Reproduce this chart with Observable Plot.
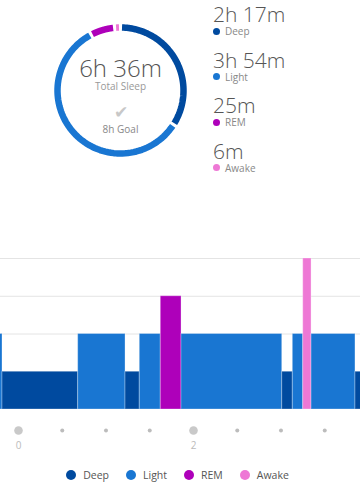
<!DOCTYPE html>
<html><head><meta charset="utf-8">
<script src="https://cdn.jsdelivr.net/npm/d3@7"></script>
<script src="https://cdn.jsdelivr.net/npm/@observablehq/plot@0.6"></script>
<style>
body{margin:0;background:#fff;font-family:"Open Sans",sans-serif;width:360px;height:490px;overflow:hidden}
#top{position:relative;width:360px;height:245px}
#donut{position:absolute;left:0;top:0}
.stat{position:absolute;left:213px}
.num{font-size:21px;line-height:21px;height:21px;color:#555;font-weight:300;white-space:nowrap}
.lab{display:flex;align-items:center;height:10px;margin-top:1px;font-size:10px;color:#888}
.lab i{display:inline-block;width:7px;height:7px;border-radius:50%;margin-right:5px}
#legend{display:flex;justify-content:center;align-items:center;height:20px;font-size:10.5px;color:#555;gap:17px;padding-right:5px}
#legend span{display:flex;align-items:center}
#legend i{display:inline-block;width:10px;height:10px;border-radius:50%;margin-right:7px}
#hyp svg{display:block}
</style></head>
<body>
<div id="top"><div id="donut"></div></div>
<div id="hyp"></div>
<div id="legend"></div>
<script>
const stages = ["Deep","Light","REM","Awake"];
const stageColors = ["#004a9f","#1976d2","#ae00ba","#ee78d5"];
const stageMinutes = [137, 234, 25, 6];
const stageLabels = ["2h 17m","3h 54m","25m","6m"];
const stageLevels = [1, 2, 3, 4];
const totalLabel = "6h 36m";
const totalCaption = "Total Sleep";
const goalLabel = "8h Goal";

// hypnogram segments (hours from start)
const segStart = [-0.30,-0.183,0.682,1.223,1.386,1.626,1.863,3.014,3.135,3.254,3.349,3.851];
const segEnd   = [-0.183,0.682,1.223,1.386,1.626,1.863,3.014,3.135,3.254,3.349,3.851,4.10];
const segStage = ["Light","Deep","Light","Deep","Light","REM","Light","Deep","Light","Awake","Light","Deep"];
const tickHours = [0,0.5,1,1.5,2,2.5,3,3.5];
const tickLabels = ["0","","","","2","","",""];
const gridLevels = [2,3,4];
const xDomain = [-0.2057, 3.9086];

const color = {domain: stages, range: stageColors};

// ---- donut ----
const total = d3.sum(stageMinutes);
const R = 63;
const arcPts = [];
let acc = 0;
stages.forEach((s, i) => {
  const a0 = acc / total * 2 * Math.PI;
  const a1 = (acc + stageMinutes[i]) / total * 2 * Math.PI;
  acc += stageMinutes[i];
  const pad = 0.024, n = 80;
  for (let k = 0; k <= n; k++) {
    const a = a0 + pad + (a1 - a0 - 2 * pad) * k / n;
    arcPts.push({stage: s, x: R * Math.sin(a), y: R * Math.cos(a)});
  }
});

const donut = Plot.plot({
  width: 240, height: 180,
  margin: 0,
  x: {domain: [-120, 120], axis: null},
  y: {domain: [-90, 90], axis: null},
  color,
  style: {fontFamily: "Open Sans, sans-serif", background: "transparent"},
  marks: [
    Plot.line(arcPts, {x: "x", y: "y", z: "stage", stroke: "stage", strokeWidth: 6.5, strokeLinecap: "butt", curve: "linear"}),
    Plot.text([totalLabel], {x: 0, y: 21, text: d => d, fontSize: 24, fill: "#555", fontWeight: 300}),
    Plot.text([totalCaption], {x: 0, y: 3.5, text: d => d, fontSize: 10, fill: "#999"}),
    Plot.text(["\u2714"], {x: 0, y: -22, text: d => d, fontSize: 17, fill: "#c8c8c8"}),
    Plot.text([goalLabel], {x: 0, y: -39.5, text: d => d, fontSize: 10, fill: "#888"})
  ]
});
document.getElementById("donut").append(donut);

// ---- stats column ----
const topBox = document.getElementById("top");
stages.forEach((s, i) => {
  const d = document.createElement("div");
  d.className = "stat";
  d.style.top = (4 + i * 45.5) + "px";
  d.innerHTML = `<div class="num">${stageLabels[i]}</div><div class="lab"><i style="background:${stageColors[i]}"></i>${s}</div>`;
  topBox.append(d);
});

// ---- hypnogram ----
const segs = segStart.map((s, i) => ({start: s, end: segEnd[i], stage: segStage[i], level: stageLevels[stages.indexOf(segStage[i])]}));
const ticks = tickHours.map((h, i) => ({h, label: tickLabels[i], major: tickLabels[i] !== ""}));

const hyp = Plot.plot({
  width: 360, height: 220,
  marginTop: 13, marginBottom: 56, marginLeft: 0, marginRight: 0,
  x: {domain: xDomain, axis: null},
  y: {domain: [0, 4], axis: null},
  color,
  style: {fontFamily: "Open Sans, sans-serif", background: "#fff", overflow: "visible"},
  marks: [
    Plot.ruleY(gridLevels, {stroke: "#e4e4e4", strokeWidth: 1}),
    Plot.rect(segs, {x1: "start", x2: "end", y1: 0, y2: "level", fill: "stage", stroke: "#ffffff", strokeOpacity: 0.3, strokeWidth: 1, clip: true}),
    Plot.dot(ticks.filter(d => d.major), {x: "h", frameAnchor: "bottom", dy: 21, r: 4.3, fill: "#c9c9c9", stroke: null}),
    Plot.dot(ticks.filter(d => !d.major), {x: "h", frameAnchor: "bottom", dy: 21, r: 2, fill: "#bcbcbc", stroke: null}),
    Plot.text(ticks.filter(d => d.major), {x: "h", text: "label", frameAnchor: "bottom", dy: 39, fontSize: 10, fill: "#bbb"})
  ]
});
document.getElementById("hyp").append(hyp);

// ---- legend ----
const lg = document.getElementById("legend");
stages.forEach((s, i) => {
  const sp = document.createElement("span");
  sp.innerHTML = `<i style="background:${stageColors[i]}"></i>${s}`;
  lg.append(sp);
});
</script>
</body></html>
